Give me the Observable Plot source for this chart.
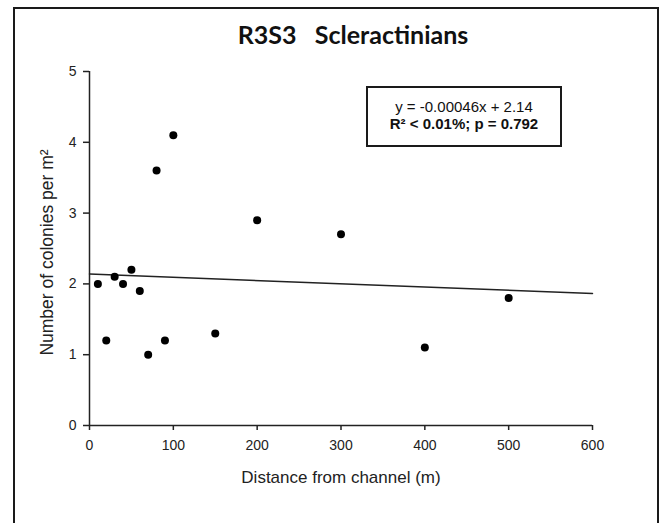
<!DOCTYPE html>
<html><head><meta charset="utf-8">
<script src="https://cdn.jsdelivr.net/npm/d3@7"></script>
<script src="https://cdn.jsdelivr.net/npm/@observablehq/plot@0.6"></script>
<style>
body{margin:0;background:#fff;}
#wrap{position:relative;width:664px;height:523px;overflow:hidden;background:#fff;}
#frame{position:absolute;left:13px;top:7px;width:642px;height:600px;border:2px solid #1a1a1a;pointer-events:none;}
#eq{position:absolute;left:366px;top:86px;width:192px;height:47px;padding-top:10px;border:2px solid #1a1a1a;background:#fff;
  font-family:"Liberation Sans",Arial,sans-serif;font-size:15px;line-height:17px;text-align:center;color:#111;}
#eq b{font-weight:bold;}
#chart{position:absolute;left:0;top:0;}
</style>
</head><body>
<div id="wrap"><div id="chart"></div><div id="eq"></div><div id="frame"></div></div>
<script>
const distance = [10, 20, 30, 40, 50, 60, 70, 80, 90, 100, 150, 200, 300, 400, 500];
const colonies = [2.0, 1.2, 2.1, 2.0, 2.2, 1.9, 1.0, 3.6, 1.2, 4.1, 1.3, 2.9, 2.7, 1.1, 1.8];
const xTicks = [0, 100, 200, 300, 400, 500, 600];
const yTicks = [0, 1, 2, 3, 4, 5];
const slope = -0.00046;
const intercept = 2.14;
const title = "R3S3\u00a0\u00a0\u00a0Scleractinians";
const xLabel = "Distance from channel (m)";
const yLabel = "Number of colonies per m\u00b2";
const eqLine1 = "y = -0.00046x + 2.14";
const eqLine2 = "R\u00b2 < 0.01%; p = 0.792";

const data = distance.map((d, i) => ({x: d, y: colonies[i]}));
const xDomain = [xTicks[0], xTicks[xTicks.length - 1]];
const yDomain = [yTicks[0], yTicks[yTicks.length - 1]];

const font = '"Liberation Sans", Arial, sans-serif';
const chart = Plot.plot({
  width: 664, height: 523,
  marginLeft: 89, marginRight: 72, marginTop: 71, marginBottom: 98,
  style: {fontFamily: font, color: "#222", background: "transparent"},
  x: {domain: xDomain},
  y: {domain: yDomain},
  marks: [
    Plot.axisX({ticks: xTicks, tickFormat: d => String(d), tickSize: 5, tickPadding: 10, fontSize: 14, strokeWidth: 1.5, label: null}),
    Plot.axisY({ticks: yTicks, tickFormat: d => String(d), tickSize: 6, tickPadding: 7, fontSize: 14, strokeWidth: 1.5, label: null}),
    Plot.ruleY([yDomain[0]], {stroke: "#222", strokeWidth: 1.5}),
    Plot.ruleX([xDomain[0]], {stroke: "#222", strokeWidth: 1.5}),
    Plot.line(xDomain, {x: d => d, y: d => intercept + slope * d, stroke: "#222", strokeWidth: 1.5}),
    Plot.dot(data, {x: "x", y: "y", r: 4, fill: "#000", stroke: null}),
    Plot.text([title], {frameAnchor: "top", lineAnchor: "bottom", dx: 12, dy: -28, fontSize: 25, fontWeight: "bold", fontFamily: "Lato, 'Open Sans', sans-serif", fill: "#111"}),
    Plot.text([xLabel], {frameAnchor: "bottom", lineAnchor: "bottom", dy: 57, fontSize: 17, fill: "#222"}),
    Plot.text([yLabel], {frameAnchor: "left", textAnchor: "middle", rotate: -90, dx: -42, dy: 4, fontSize: 17.5, fill: "#222"})
  ]
});
document.getElementById("chart").appendChild(chart);
document.getElementById("eq").innerHTML = eqLine1 + "<br><b>" + eqLine2 + "</b>";
</script>
</body></html>
